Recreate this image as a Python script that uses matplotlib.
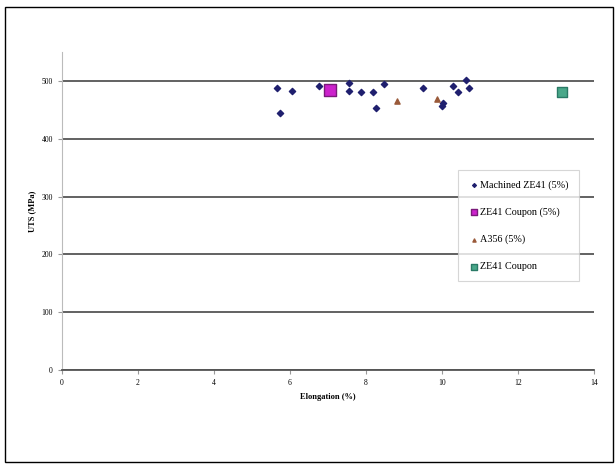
import matplotlib.pyplot as plt
from matplotlib.patches import Rectangle

# data
mach_x = [5.65, 6.06, 5.74, 6.77, 7.56, 7.56, 7.88, 8.18, 8.47, 8.27, 9.51, 10.03, 9.99, 10.3, 10.42, 10.62, 10.72]
mach_y = [488, 483, 444, 491, 496, 483, 481, 480, 494, 453, 488, 461, 456, 491, 480, 502, 488]
coupon5_x = [7.05]
coupon5_y = [485]
a_x = [8.81, 9.88]
a_y = [465, 468]
coupon_x = [13.16]
coupon_y = [481]

labels = ['Machined ZE41 (5%)', 'ZE41 Coupon (5%)', 'A356 (5%)', 'ZE41 Coupon']

plt.rcParams['font.family'] = ['Liberation Serif', 'DejaVu Serif']

fig = plt.figure(figsize=(6.15, 4.68), dpi=100)
fig.patches.append(Rectangle((0.008, 0.012), 0.988, 0.972, transform=fig.transFigure,
                             fill=False, edgecolor='black', lw=1.0))
ax = fig.add_axes([0.1008, 0.209, 0.865, 0.68])

ax.scatter(mach_x, mach_y, marker='D', s=10, color='#1f1f6e', label=labels[0], zorder=3)
ax.scatter(coupon5_x, coupon5_y, marker='s', s=70, color='#cc22cc', edgecolor='#7a1a7a', label=labels[1], zorder=3)
ax.scatter(a_x, a_y, marker='^', s=14, color='#9a5a3a', label=labels[2], zorder=3)
ax.scatter(coupon_x, coupon_y, marker='s', s=45, color='#4aa88a', edgecolor='#2a7a66', label=labels[3], zorder=3)

ax.set_xlim(0, 14)
ax.set_ylim(0, 550)
ax.set_xticks(range(0, 15, 2))
ax.set_yticks(range(0, 501, 100))
ax.yaxis.grid(True, color='#555555', lw=1.3)
ax.set_axisbelow(True)
for s in ['top', 'right']:
    ax.spines[s].set_visible(False)
ax.spines['left'].set_color('#bbbbbb')
ax.spines['bottom'].set_color('#555555')
ax.spines['bottom'].set_linewidth(1.3)
ax.tick_params(labelsize=5.5, length=3, color='#999999')

ax.set_xlabel('Elongation (%)', fontsize=6, fontweight='bold')
ax.set_ylabel('UTS (MPa)', fontsize=6, fontweight='bold')

leg = ax.legend(loc='upper left', bbox_to_anchor=(0.735, 0.645), fontsize=7.3,
                labelspacing=1.75, borderpad=1.0, handletextpad=0.1, handlelength=1.1,
                markerscale=0.6, frameon=True, fancybox=False, edgecolor='#cccccc')
leg.get_frame().set_linewidth(0.8)

plt.savefig('out.png', dpi=100)
